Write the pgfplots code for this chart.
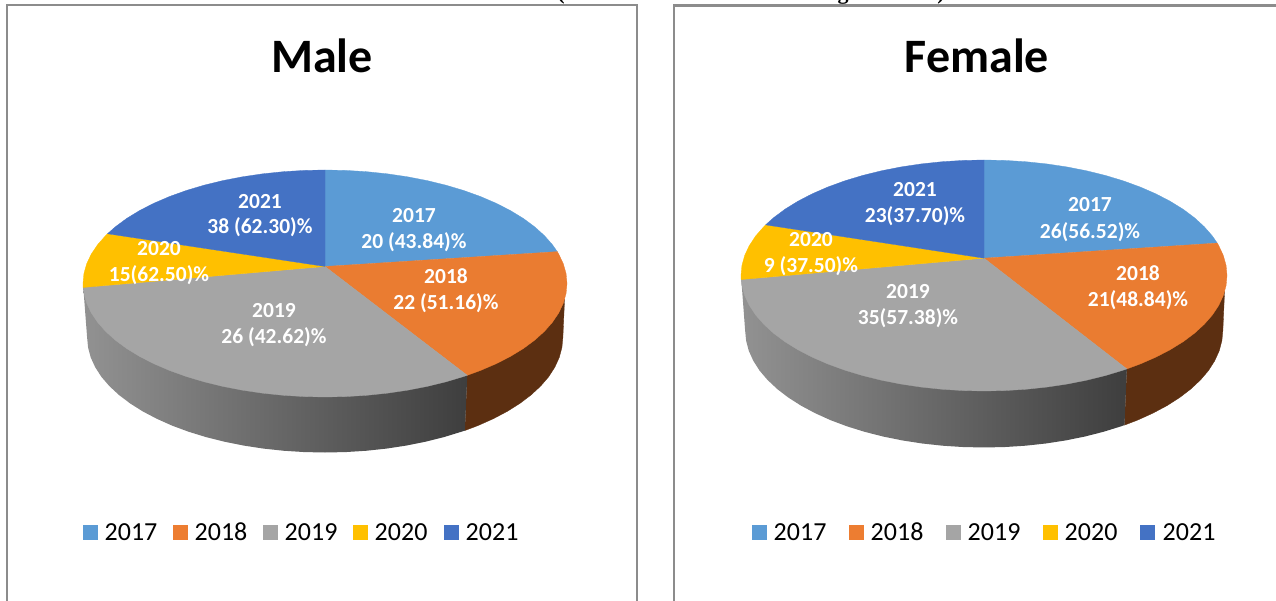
\documentclass[border=0pt]{standalone}
\usepackage{fontspec}
\setmainfont{Carlito}
\newfontfamily\serifb{Liberation Serif}
\usepackage{pgfplots}
\pgfplotsset{compat=1.18}
\definecolor{c17}{HTML}{5B9BD5}
\definecolor{c18}{HTML}{EA7C31}
\definecolor{c19}{HTML}{A5A5A5}
\definecolor{c20}{HTML}{FFC000}
\definecolor{c21}{HTML}{4472C4}
\definecolor{l18}{HTML}{ED7D31}
\definecolor{sideor}{HTML}{5C2F11}
\definecolor{sideg1}{HTML}{929292}
\definecolor{sideg2}{HTML}{666666}
\definecolor{sideg3}{HTML}{3E3E3E}
\definecolor{frame}{HTML}{8C8C8C}

% pie drawn on a unit ellipse, each axis stretches it to its own size
\newcommand{\pieslices}{
  % side wall, 2018
  \addplot[fill=sideor, draw=sideor, line width=0.3pt] coordinates {
    (0.5878,-0.809) (0.578,-1.2955) (0.632,-1.252) (0.695,-1.192) (0.753,-1.127)
    (0.805,-1.057) (0.851,-0.983) (0.891,-0.904) (0.924,-0.8225) (0.9495,-0.738)
    (0.968,-0.652) (0.979,-0.564) (0.983,-0.476) (0.990,-0.139)} -- cycle;
  % side wall, 2019
  \addplot[left color=sideg1, middle color=sideg2, right color=sideg3, draw=none] coordinates {
    (0.5878,-0.809) (0.578,-1.2955) (0.5639,-1.3059) (0.4915,-1.3533) (0.4154,-1.3941)
    (0.3362,-1.4279) (0.2544,-1.4545) (0.1707,-1.4736) (0.0857,-1.4852) (0,-1.489)
    (-0.0857,-1.4852) (-0.1707,-1.4736) (-0.2544,-1.4545) (-0.3362,-1.4279) (-0.4154,-1.3941)
    (-0.4915,-1.3533) (-0.5639,-1.3059) (-0.632,-1.252) (-0.695,-1.192) (-0.753,-1.127)
    (-0.805,-1.057) (-0.851,-0.983) (-0.891,-0.904) (-0.924,-0.8225) (-0.9495,-0.738)
    (-0.968,-0.652) (-0.979,-0.564) (-0.983,-0.476) (-1,0)} -- cycle;
  % top face
  \addplot[fill=c17, draw=c17, line width=0.3pt] coordinates {
    (0,0.15) (0,1) (0.0872,0.9962) (0.1736,0.9848) (0.2588,0.9659) (0.3420,0.9397)
    (0.4226,0.9063) (0.5,0.8660) (0.5736,0.8192) (0.6428,0.7660) (0.7071,0.7071)
    (0.7660,0.6428) (0.8192,0.5736) (0.8660,0.5) (0.9063,0.4226) (0.9397,0.3420)
    (0.9598,0.2807)} -- cycle;
  \addplot[fill=c18, draw=c18, line width=0.3pt] coordinates {
    (0,0.15) (0.9598,0.2807) (0.9659,0.2588) (0.9848,0.1736) (0.9962,0.0872) (1,0)
    (0.9962,-0.0872) (0.9848,-0.1736) (0.9659,-0.2588) (0.9397,-0.3420) (0.9063,-0.4226)
    (0.8660,-0.5) (0.8192,-0.5736) (0.7660,-0.6428) (0.7071,-0.7071) (0.6428,-0.7660)
    (0.5878,-0.809)} -- cycle;
  \addplot[fill=c19, draw=c19, line width=0.3pt] coordinates {
    (0,0.15) (0.5878,-0.809) (0.5736,-0.8192) (0.5,-0.8660) (0.4226,-0.9063) (0.3420,-0.9397)
    (0.2588,-0.9659) (0.1736,-0.9848) (0.0872,-0.9962) (0,-1) (-0.0872,-0.9962) (-0.1736,-0.9848)
    (-0.2588,-0.9659) (-0.3420,-0.9397) (-0.4226,-0.9063) (-0.5,-0.8660) (-0.5736,-0.8192)
    (-0.6428,-0.7660) (-0.7071,-0.7071) (-0.7660,-0.6428) (-0.8192,-0.5736) (-0.8660,-0.5)
    (-0.9063,-0.4226) (-0.9397,-0.3420) (-0.9659,-0.2588) (-0.9848,-0.1736) (-0.9962,-0.0872)
    (-0.9994,-0.0349)} -- cycle;
  \addplot[fill=c20, draw=c20, line width=0.3pt] coordinates {
    (0,0.15) (-0.9994,-0.0349) (-1,0) (-0.9962,0.0872) (-0.9848,0.1736) (-0.9659,0.2588)
    (-0.9397,0.3420) (-0.9063,0.4226) (-0.8988,0.4384)} -- cycle;
  \addplot[fill=c21, draw=c21, line width=0.3pt] coordinates {
    (0,0.15) (-0.8988,0.4384) (-0.8660,0.5) (-0.8192,0.5736) (-0.7660,0.6428) (-0.7071,0.7071)
    (-0.6428,0.7660) (-0.5736,0.8192) (-0.5,0.8660) (-0.4226,0.9063) (-0.3420,0.9397)
    (-0.2588,0.9659) (-0.1736,0.9848) (-0.0872,0.9962) (0,1)} -- cycle;
}

\pgfplotsset{pie axis/.style={
  hide axis, scale only axis, clip=false, anchor=south west,
  xmin=-1, xmax=1, ymin=-1, ymax=1}}

% pixel-based helpers for the overlay axis
\newcommand{\lab}[5]{%
  \node[anchor=base, inner sep=0pt, text=white, font=\fontsize{21.5}{21.5}\selectfont\bfseries] at (axis cs:#1,#2) {#4};
  \node[anchor=base, inner sep=0pt, text=white, font=\fontsize{21.5}{21.5}\selectfont\bfseries] at (axis cs:#1,#3) {#5};
}
\newcommand{\leg}[4]{%
  \addplot[fill=#3, draw=none] coordinates {(#1,525) (#1+15,525) (#1+15,540) (#1,540)} -- cycle;
  \node[anchor=base west, inner sep=0pt, font=\fontsize{26}{26}\selectfont] at (axis cs:#2,540) {#4};
}

\begin{document}
\begin{tikzpicture}
\path[clip, use as bounding box] (0,0) rectangle (1276pt,600pt);

\begin{axis}[pie axis, at={(83pt,203pt)}, width=484pt, height=227pt]
\pieslices
\end{axis}

\begin{axis}[pie axis, at={(741pt,209pt)}, width=486pt, height=231pt]
\pieslices
\end{axis}

\begin{axis}[hide axis, scale only axis, clip=false, anchor=south west, at={(0pt,0pt)},
  width=1276pt, height=600pt, xmin=0, xmax=1276, ymin=0, ymax=600, y dir=reverse]
% panel frames
\addplot[draw=frame, line width=2.5pt] coordinates {(7,610) (7,5) (637,5) (637,610)};
\addplot[draw=frame, line width=2.5pt] coordinates {(674,610) (674,5.5) (1280,5.5)};
% cut-off caption above the panels
\node[anchor=base, inner sep=0pt, font=\fontsize{22}{22}\selectfont\serifb\bfseries] at (axis cs:561,-1) {(};
\node[anchor=base, inner sep=0pt, font=\fontsize{22}{22}\selectfont\serifb\bfseries] at (axis cs:843,-1) {g};
\node[anchor=base, inner sep=0pt, font=\fontsize{22}{22}\selectfont\serifb\bfseries] at (axis cs:941,-1) {)};
% titles
\node[anchor=base, inner sep=0pt, font=\fontsize{48}{48}\selectfont\bfseries] at (axis cs:322,72) {Male};
\node[anchor=base, inner sep=0pt, font=\fontsize{48}{48}\selectfont\bfseries] at (axis cs:977,72) {Female};
% data labels, male
\lab{414}{222}{248}{2017}{20 (43.84)\%}
\lab{446}{283}{309}{2018}{22 (51.16)\%}
\lab{274}{317}{343}{2019}{26 (42.62)\%}
\lab{159}{255}{281}{2020}{15(62.50)\%}
\lab{260}{208}{233}{2021}{38 (62.30)\%}
% data labels, female
\lab{1090}{211}{238}{2017}{26(56.52)\%}
\lab{1138}{280}{306}{2018}{21(48.84)\%}
\lab{908}{298}{324}{2019}{35(57.38)\%}
\lab{811}{246}{272}{2020}{9 (37.50)\%}
\lab{915}{196}{222}{2021}{23(37.70)\%}
% legends
\leg{83}{104.5}{c17}{2017}
\leg{173}{194.5}{l18}{2018}
\leg{263}{284.5}{c19}{2019}
\leg{353}{374.5}{c20}{2020}
\leg{444}{465.5}{c21}{2021}
\leg{752}{773.5}{c17}{2017}
\leg{849}{870.5}{l18}{2018}
\leg{946}{967.5}{c19}{2019}
\leg{1043}{1064.5}{c20}{2020}
\leg{1140}{1162.5}{c21}{2021}
\end{axis}
\end{tikzpicture}
\end{document}
